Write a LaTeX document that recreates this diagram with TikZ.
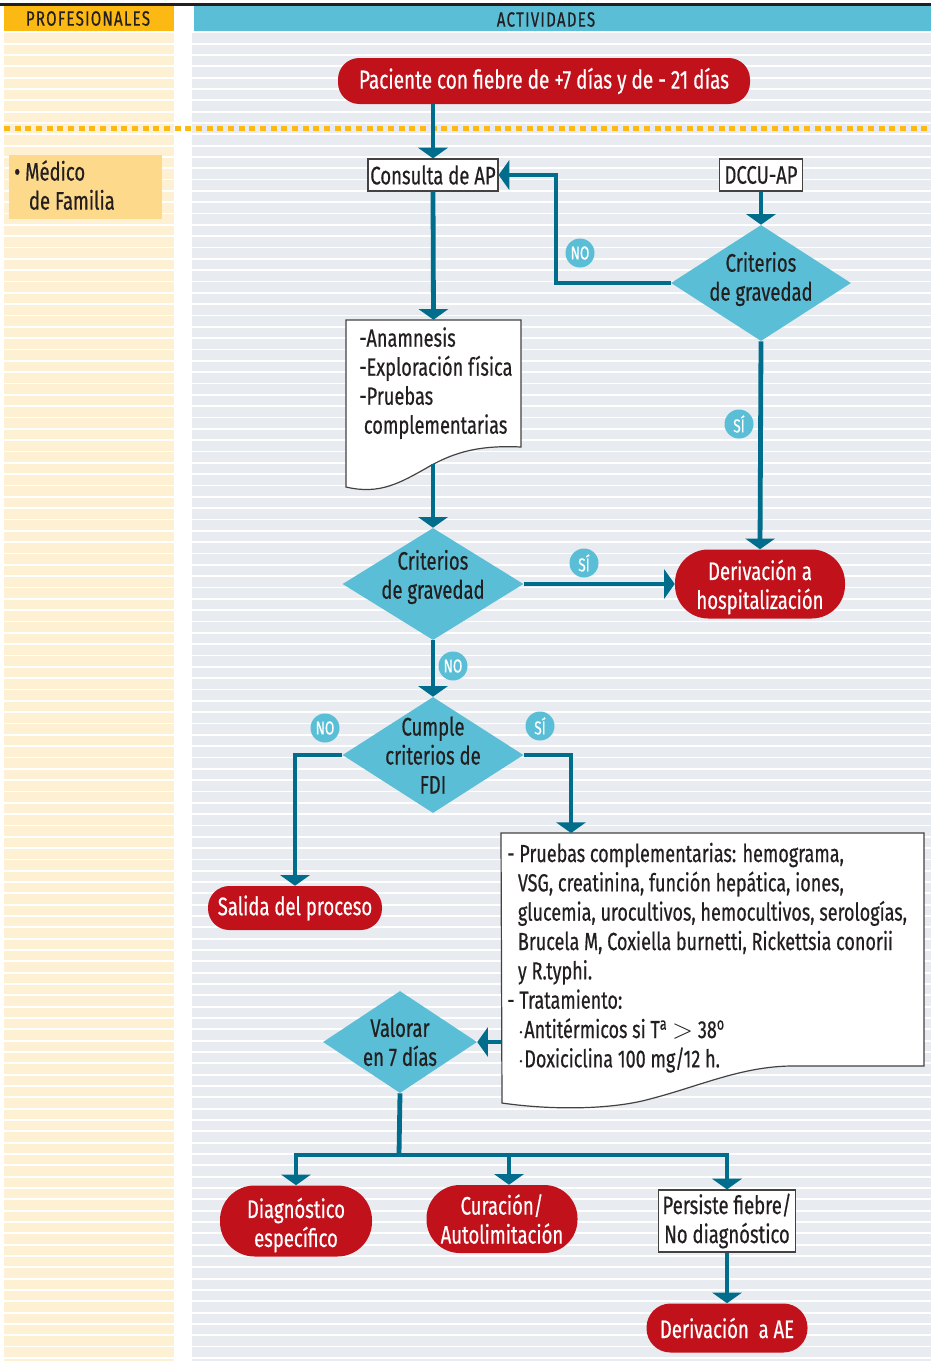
\documentclass[tikz,border=0pt]{standalone}
\usepackage{fontspec}
\setmainfont{Fira Sans}[FakeStretch=0.73,FakeBold=0.5]
\usetikzlibrary{arrows.meta,shapes.geometric}
\definecolor{ink}{HTML}{231F20}
\definecolor{flow}{HTML}{006D8C}
\definecolor{cyanA}{HTML}{5ABFD6}
\definecolor{redA}{HTML}{C1121C}
\definecolor{yelH}{HTML}{FDB913}
\definecolor{yelS}{HTML}{FEF0D3}
\definecolor{yelB}{HTML}{FDD98C}
\definecolor{greyS}{HTML}{E8EBF0}
\tikzset{
  pill/.style={fill=redA, text=white, inner sep=0pt, align=center, font=\fontsize{19}{21.75}\selectfont},
  piltext/.style={text=white, inner sep=0pt, align=center, font=\fontsize{19}{21.75}\selectfont},
  boxn/.style={draw=ink!85, fill=white, line width=0.9pt, text=ink, inner sep=0pt, font=\fontsize{19}{21.75}\selectfont},
  dia/.style={diamond, fill=cyanA, inner sep=0pt},
  dtext/.style={text=ink, align=center, font=\fontsize{19}{21.75}\selectfont},
  lab/.style={circle, fill=cyanA, text=white, minimum size=21.75pt, inner sep=0pt, font=\fontsize{14}{14}\selectfont},
  flowline/.style={draw=flow, line width=3.6pt},
  arr/.style={flowline, -{Triangle[width=22pt,length=8pt]}},
  docshape/.style={draw=ink!85, fill=white, line width=0.9pt},
  sz/.style 2 args={minimum width=#1*0.75pt, minimum height=#2*0.75pt},
}
\begin{document}
\begin{tikzpicture}[x=0.75pt,y=-0.75pt]
\useasboundingbox (0,0) rectangle (931,1361);
\fill[white] (0,0) rectangle (931,1361);
% striped columns
\fill[yelS] (4,31) rectangle (174,1361);
\fill[greyS] (192,31) rectangle (931,1361);
\foreach \k in {0,...,117} {
  \fill[white] (0,{32.3+11.33*\k-0.9}) rectangle (931,{32.3+11.33*\k+0.9});
}
% headers
\fill[ink] (0,2.5) rectangle (931,5.5);
\fill[yelH] (4,5.5) rectangle (174,31);
\fill[cyanA] (194,5.5) rectangle (931,31);
\node[text=ink, font=\fontsize{15.5}{15.5}\selectfont\addfontfeature{LetterSpace=6}] (hprof) at (88,18.5) {PROFESIONALES};
\node[text=ink, font=\fontsize{15.5}{15.5}\selectfont\addfontfeature{LetterSpace=6}] (hact) at (546,19.5) {ACTIVIDADES};
% dotted separator
\draw[yelH, line width=3.75pt, dash pattern=on 4.5pt off 3.5pt] (4,128) -- (931,128);
% professional box
\node[fill=yelB, sz={153}{64}, inner sep=0pt] (prof) at (85.5,187) {};
\node[anchor=north west, text=ink, align=left, inner sep=0pt, font=\fontsize{19}{21.75}\selectfont] (proft) at (14,160) {\textbullet\ Médico\\\hspace*{11pt}de Familia};
% document shapes
\draw[docshape] (346,320) -- (521,320) -- (521,447)
  .. controls (480,445) and (455,452) .. (430,466)
  .. controls (400,483) and (380,495) .. (346,487) -- cycle;
\draw[docshape] (501,833) -- (924,833) -- (924,1066) -- (790,1066)
  .. controls (740,1067) and (700,1086) .. (650,1099)
  .. controls (610,1110) and (550,1110) .. (502,1103) -- cycle;
\coordinate (w1) at (433,464);
\coordinate (k1) at (556,0);
\coordinate (k3) at (571,833);
\coordinate (bus) at (399,1155);
% nodes
\node[pill, sz={412}{46}, rounded corners=16pt, font=\fontsize{19.5}{21.75}\selectfont] (start) at (544,81) {Paciente con fiebre de +7 días y de - 21 días};
\node[boxn, sz={130}{32}] (cons) at (433,175) {Consulta de AP};
\node[boxn, sz={83}{32}] (dccu) at (761,175) {DCCU-AP};
\node[dia, sz={180}{116}] (d1) at (761,283) {};
\node[dtext, yshift=3pt] (d1t) at (d1) {Criterios\\de gravedad};
\node[sz={175}{172}, inner sep=0pt] (doc1) at (433.5,406) {};
\node[anchor=north west, text=ink, align=left, inner sep=0pt, font=\fontsize{18.7}{21.75}\selectfont] (doc1t) at (359,327) {-Anamnesis\\-Exploración física\\-Pruebas\\\hspace*{3.5pt}complementarias};
\node[dia, sz={181}{112}] (d2) at (433,584) {};
\node[dtext, yshift=5.25pt] (d2t) at (d2) {Criterios\\de gravedad};
\node[pill, sz={170}{69}, rounded corners=25pt] (hosp) at (760,584) {};
\node[piltext, yshift=-2.25pt] (hospt) at (hosp) {Derivación a\\hospitalización};
\node[dia, sz={181}{116}] (d3) at (433,755) {};
\node[dtext] (d3t) at (d3) {Cumple\\criterios de\\FDI};
\node[pill, sz={174}{44}, rounded corners=16pt] (salida) at (295,908) {Salida del proceso};
\node[sz={423}{274}, inner sep=0pt] (doc2) at (712.5,970) {};
\node[anchor=north west, text=ink, align=left, inner sep=0pt, font=\fontsize{18.5}{22}\selectfont] (doc2t) at (507,842.5) {- Pruebas complementarias: hemograma,\\
\hspace*{8pt}VSG, creatinina, función hepática, iones,\\
\hspace*{8pt}glucemia, urocultivos, hemocultivos, serologías,\\
\hspace*{8pt}Brucela M, Coxiella burnetti, Rickettsia conorii\\
\hspace*{8pt}y R.typhi.\\
- Tratamiento:\\
\hspace*{8pt}$\cdot$Antitérmicos si T\textsuperscript{a} {\fontsize{22}{22}\selectfont$>$} 38\textsuperscript{o}\\
\hspace*{8pt}$\cdot$Doxiciclina 100 mg/12 h.};
\node[dia, sz={154}{102}] (d4) at (400,1042) {};
\node[dtext] (d4t) at (d4) {Valorar\\en 7 días};
\node[pill, sz={152}{71}, rounded corners=26pt] (diag) at (296,1221) {};
\node[piltext, yshift=-3pt] (diagt) at (diag) {Diagnóstico\\específico};
\node[pill, sz={151}{68}, rounded corners=25pt] (cur) at (502,1219) {Curación/\\Autolimitación};
\node[boxn, sz={137}{62}, align=center] (pers) at (727,1221) {Persiste fiebre/\\No diagnóstico};
\node[pill, sz={161}{49}, rounded corners=18pt] (ae) at (727,1328) {Derivación\ \ a AE};
% connectors
\draw[arr] (cons.north |- start.south) -- (cons.north);
\draw[arr] (dccu.south) -- (d1.north);
\draw[arr] (d1.west) -- (d1.west -| k1) -- (k1 |- cons.east) -- (cons.east);
\draw[arr] (d1.south) -- (hosp.north);
\draw[arr] (cons.south) -- (doc1.north);
\draw[arr] (w1) -- (d2.north);
\draw[arr] (d2.east) -- (hosp.west);
\draw[arr] (d2.south) -- (d3.north);
\draw[arr] (d3.west) -| (salida.north);
\draw[arr] (d3.east) -| (k3);
\draw[arr] (doc2.west |- d4.east) -- (d4.east);
\draw[flowline] (d4.south) -- (bus);
\draw[arr] (bus) -| (diag.north);
\draw[arr] (bus) -| ([xshift=5.25pt]cur.north);
\draw[arr] (bus) -| (pers.north);
\draw[arr] (pers.south) -- (ae.north);
% labels
\node[lab] (l1) at (580,253) {NO};
\node[lab] (l2) at (739,424) {SÍ};
\node[lab] (l3) at (584,563) {SÍ};
\node[lab] (l4) at (453,666) {NO};
\node[lab] (l5) at (325,728) {NO};
\node[lab] (l6) at (540,726) {SÍ};
\end{tikzpicture}
\end{document}
